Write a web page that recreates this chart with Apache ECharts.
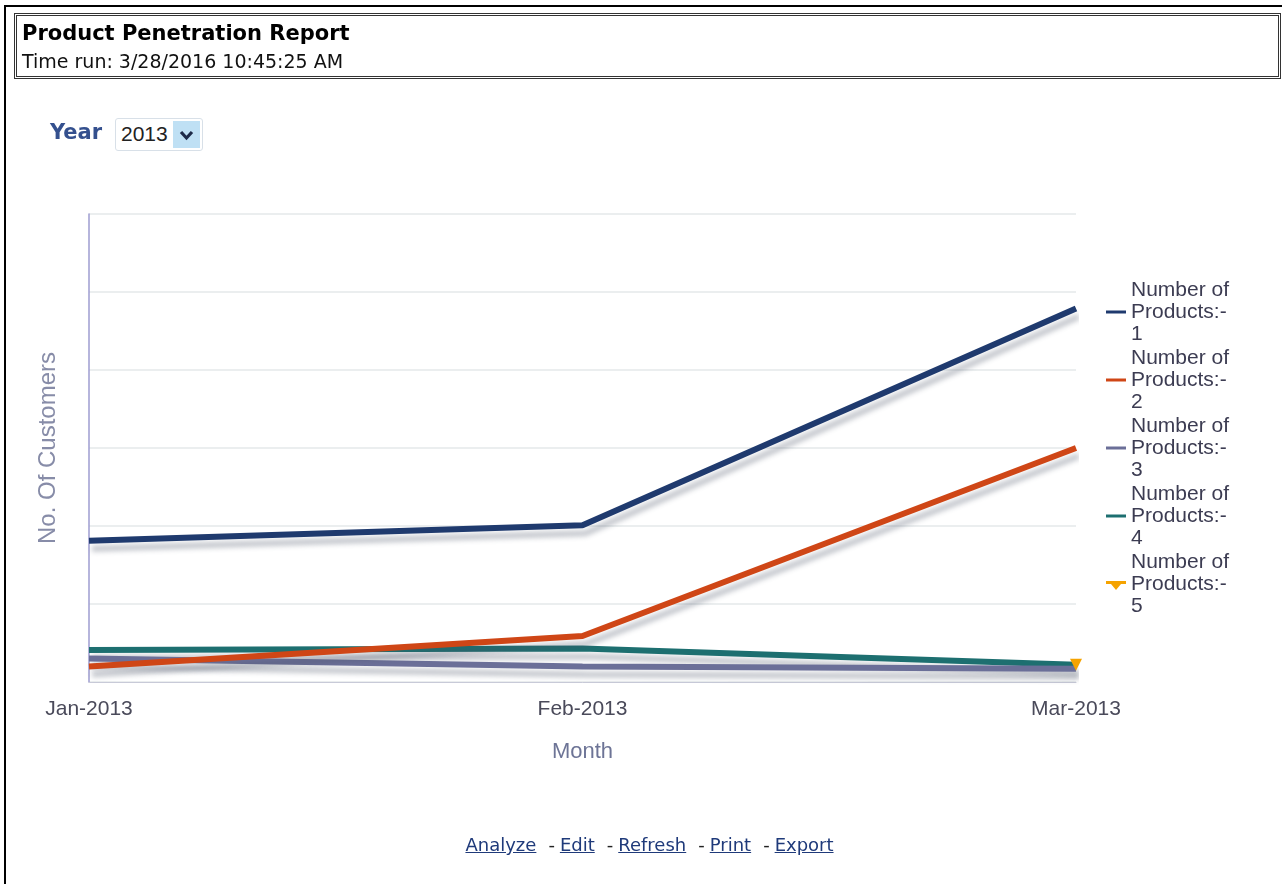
<!DOCTYPE html>
<html>
<head>
<meta charset="utf-8">
<script src="https://cdn.jsdelivr.net/npm/echarts@6/dist/echarts.min.js"></script>
<style>
  html, body { margin: 0; padding: 0; background: #fff; }
  body { width: 1282px; height: 884px; position: relative; overflow: hidden; font-family: "DejaVu Sans", Verdana, sans-serif; }
  .frame { position: absolute; left: 4px; top: 5px; width: 1290px; height: 900px; border-left: 2px solid #000; border-top: 2px solid #000; }
  .head { position: absolute; left: 14px; top: 13px; width: 1261px; height: 60px; border: 3px double #333; z-index: 2; }
  .head .t { position: absolute; left: 5px; top: 5px; font-weight: bold; font-size: 21px; color: #000; white-space: nowrap; }
  .head .r { position: absolute; left: 5px; top: 34px; font-size: 19px; color: #111; white-space: nowrap; }
  .year { position: absolute; left: 50px; top: 120px; font-weight: bold; font-size: 21px; color: #34508e; z-index: 2; }
  .sel { position: absolute; left: 115px; top: 118px; width: 86px; height: 31px; border: 1px solid #d8e0e8; border-radius: 3px; z-index: 2; background: #fff; }
  .sel span { position: absolute; left: 5px; top: 3px; font-family: "Liberation Sans", Arial, sans-serif; font-size: 21px; color: #222; }
  .sel svg { position: absolute; left: 57px; top: 2px; }
  .links { position: absolute; left: 0; width: 1282px; top: 834px; text-align: center; font-size: 18px; color: #222; z-index: 2; padding-left: 17px; box-sizing: border-box; white-space: nowrap; }
  .links a { color: #1f3a7a; text-decoration: underline; }
  .links .d { margin: 0 5px 0 12px; }
  #chart { position: absolute; left: 0; top: 0; width: 1282px; height: 884px; z-index: 1; }
</style>
</head>
<body>
<div class="frame"></div>
<div class="head">
  <div class="t">Product Penetration Report</div>
  <div class="r">Time run: 3/28/2016 10:45:25 AM</div>
</div>
<div class="year">Year</div>
<div class="sel"><span>2013</span><svg width="27" height="27"><rect x="0" y="0" width="27" height="27" fill="#bfe0f4"/><polyline points="8,11 13.5,17 19,11" fill="none" stroke="#1d2a48" stroke-width="3.2"/></svg></div>
<div id="chart"></div>
<div class="links"><a>Analyze</a><span class="d">-</span><a>Edit</a><span class="d">-</span><a>Refresh</a><span class="d">-</span><a>Print</a><span class="d">-</span><a>Export</a></div>
<script>
// months on the x axis
const months = ['Jan-2013', 'Feb-2013', 'Mar-2013']
// customer counts per product bucket (y axis has no printed values)
const products1 = [1.81, 2.01, 4.79]
const products2 = [0.2, 0.59, 3.0]
const products3 = [0.3, 0.2, 0.17]
const products4 = [0.41, 0.43, 0.22]
const products5 = [null, null, 0.22]
const seriesNames = ['Number of Products:-1', 'Number of Products:-2', 'Number of Products:-3', 'Number of Products:-4', 'Number of Products:-5']
const colors = ['#1f3a6e', '#cf4616', '#6b6f98', '#1d6f70', '#f5a300']

const chart = echarts.init(document.getElementById('chart'))
const lineShadow = {
  shadowColor: 'rgba(70, 80, 100, 0.32)',
  shadowBlur: 5,
  shadowOffsetX: 3,
  shadowOffsetY: 8
}
// legend icons: thin bar for the lines, bar + down triangle for series 5
const lineIcon = 'path://M0,0L0,0M0,5.5H20V8.5H0ZM20,14L20,14'
const markIcon = 'path://M0,0L0,0M0,4H20V7H0ZM5,7H15L10,13ZM20,14L20,14'

const lineData = [products1, products2, products3, products4]
const seriesArr = lineData.map((d, i) => ({
  name: seriesNames[i],
  type: 'line',
  data: d,
  symbol: 'none',
  z: 10 - i,
  lineStyle: { width: 6, color: colors[i], ...lineShadow },
  itemStyle: { color: colors[i] }
}))
seriesArr.push({
  name: seriesNames[4],
  type: 'line',
  data: products5,
  symbol: 'triangle',
  symbolRotate: 180,
  symbolSize: 12,
  showSymbol: true,
  z: 20,
  itemStyle: { color: colors[4] },
  lineStyle: { width: 5, color: colors[4] }
})

chart.setOption({
  animation: false,
  textStyle: { fontFamily: '"Liberation Sans", Arial, sans-serif' },
  grid: { left: 89, right: 206, top: 214, bottom: 202 },
  legend: {
    orient: 'vertical',
    left: 1101,
    top: 274,
    itemGap: 2,
    itemWidth: 20,
    itemHeight: 14,
    data: seriesNames.map((n, i) => ({
      name: n,
      icon: i < 4 ? lineIcon : markIcon,
      itemStyle: { color: colors[i], borderWidth: 0 }
    })),
    formatter: name => name.replace(' of ', ' of\n').replace(':-', ':-\n'),
    textStyle: { fontSize: 21, lineHeight: 22, color: '#3c3c52' }
  },
  xAxis: {
    type: 'category',
    data: months,
    boundaryGap: false,
    name: 'Month',
    nameLocation: 'middle',
    nameGap: 59,
    nameTextStyle: { fontSize: 22, color: '#6d7496' },
    axisLine: { lineStyle: { color: '#c8cad8', width: 1 } },
    axisTick: { show: false },
    axisLabel: { fontSize: 21, color: '#4a4a5a', margin: 17 }
  },
  yAxis: {
    type: 'value',
    min: 0,
    max: 6,
    interval: 1,
    name: 'No. Of Customers',
    nameLocation: 'middle',
    nameGap: 29,
    nameTextStyle: { fontSize: 24, color: '#878ca8' },
    axisLine: { show: true, lineStyle: { color: '#9e9cd0', width: 1.5 } },
    axisTick: { show: false },
    axisLabel: { show: false },
    splitLine: { lineStyle: { color: '#e4e8ea', width: 1.5 } }
  },
  series: seriesArr
})
</script>
</body>
</html>
